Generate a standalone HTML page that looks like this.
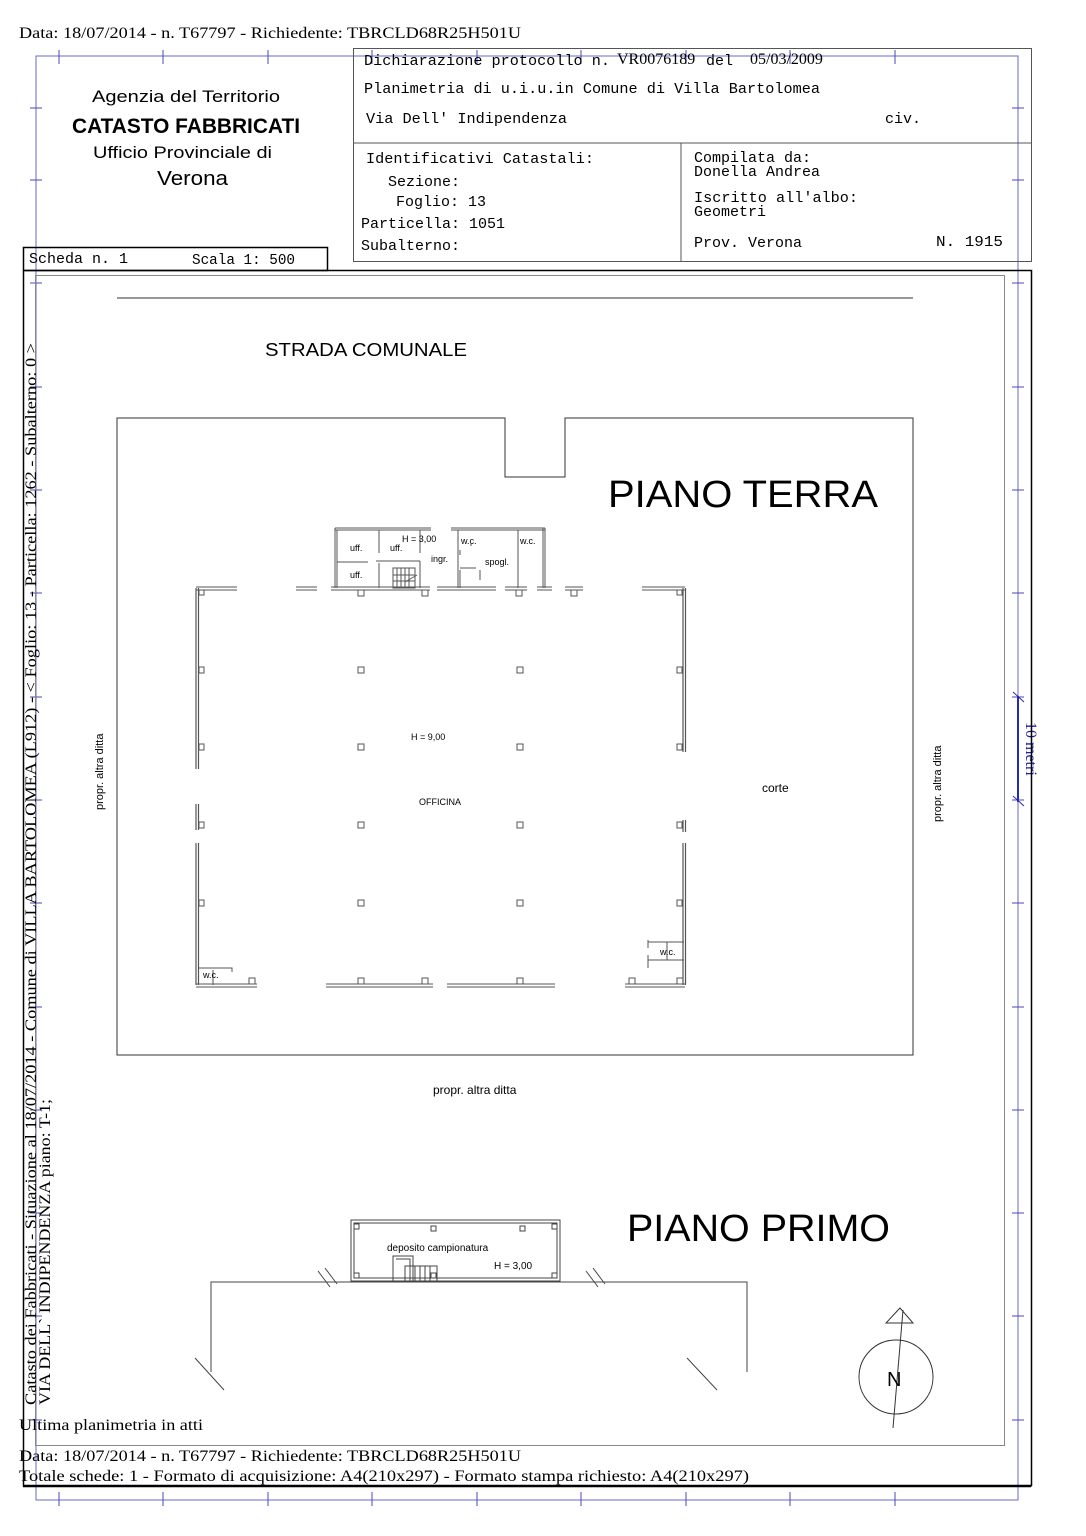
<!DOCTYPE html>
<html><head><meta charset="utf-8"><style>
html,body{margin:0;padding:0;background:#fff}
svg{display:block}
.m{font-family:"Liberation Mono",monospace;font-size:15px;fill:#000}
.s{font-family:"Liberation Sans",sans-serif;fill:#000}
.t{font-family:"Liberation Serif",serif;fill:#000}
</style></head><body>
<svg width="1086" height="1536" viewBox="0 0 1086 1536" xmlns="http://www.w3.org/2000/svg">
<rect width="1086" height="1536" fill="#fff"/>
<text x="19" y="38" class="t" font-size="16" textLength="502" lengthAdjust="spacingAndGlyphs">Data: 18/07/2014 - n. T67797 - Richiedente: TBRCLD68R25H501U</text>

<g stroke="#4a4ab8" stroke-width="1" fill="none">
<rect x="36" y="56" width="982" height="1444" stroke="#6a6ac8"/>
<g>
<path d="M59 50V64M163 50V64M268 50V64M372 50V64M477 50V64M581 50V64M686 50V64M790 50V64M895 50V64"/>
<path d="M59 1492V1506M163 1492V1506M268 1492V1506M372 1492V1506M477 1492V1506M581 1492V1506M686 1492V1506M790 1492V1506M895 1492V1506"/>
<path d="M30 108H42M30 180H42M30 283H42M30 387H42M30 490H42M30 593H42M30 697H42M30 800H42M30 903H42M30 1007H42M30 1110H42M30 1213H42M30 1316H42M30 1420H42"/>
<path d="M1012 108H1024M1012 180H1024M1012 283H1024M1012 387H1024M1012 490H1024M1012 593H1024M1012 697H1024M1012 800H1024M1012 903H1024M1012 1007H1024M1012 1110H1024M1012 1213H1024M1012 1316H1024M1012 1420H1024"/>
</g>
<path d="M1018 696V802" stroke="#2a2ab0" stroke-width="2"/>
<path d="M1013 692L1024 702M1013 796L1024 806" stroke="#2a2ab0"/>
</g>
<text x="1026" y="722" transform="rotate(90 1026 722)" font-family="Liberation Serif,serif" font-size="16" fill="#2020a0">10 metri</text>

<g stroke="#000" fill="none">
<rect x="353.5" y="48.5" width="678" height="213" stroke="#555"/>
<path d="M353 143H1031M681 143V261" stroke="#555"/>
<rect x="23.5" y="247.5" width="304" height="23" stroke-width="1.5"/>
</g>
<text x="92" y="102" class="s" font-size="17" textLength="188" lengthAdjust="spacingAndGlyphs">Agenzia del Territorio</text>
<text x="72" y="133" class="s" font-size="21" font-weight="bold" textLength="228" lengthAdjust="spacingAndGlyphs">CATASTO FABBRICATI</text>
<text x="93" y="158" class="s" font-size="17" textLength="179" lengthAdjust="spacingAndGlyphs">Ufficio Provinciale di</text>
<text x="157" y="185" class="s" font-size="20" textLength="71" lengthAdjust="spacingAndGlyphs">Verona</text>
<text x="364" y="65" class="m" textLength="246" lengthAdjust="spacingAndGlyphs">Dichiarazione protocollo n.</text>
<text x="617" y="64" class="t" font-size="16">VR0076189</text>
<text x="706" y="65" class="m">del</text>
<text x="750" y="64" class="t" font-size="16">05/03/2009</text>
<text x="364" y="93" class="m" textLength="456" lengthAdjust="spacingAndGlyphs">Planimetria di u.i.u.in Comune di Villa Bartolomea</text>
<text x="366" y="123" class="m" textLength="201" lengthAdjust="spacingAndGlyphs">Via Dell' Indipendenza</text>
<text x="885" y="123" class="m">civ.</text>
<text x="366" y="163" class="m" textLength="228" lengthAdjust="spacingAndGlyphs">Identificativi Catastali:</text>
<text x="388" y="186" class="m">Sezione:</text>
<text x="396" y="206" class="m">Foglio: 13</text>
<text x="361" y="228" class="m">Particella: 1051</text>
<text x="361" y="250" class="m">Subalterno:</text>
<text x="694" y="162" class="m">Compilata da:</text>
<text x="694" y="176" class="m">Donella Andrea</text>
<text x="694" y="202" class="m" textLength="164" lengthAdjust="spacingAndGlyphs">Iscritto all'albo:</text>
<text x="694" y="216" class="m">Geometri</text>
<text x="694" y="247" class="m">Prov. Verona</text>
<text x="936" y="246" class="m" textLength="67" lengthAdjust="spacingAndGlyphs">N. 1915</text>
<text x="29" y="263" class="m">Scheda n. 1</text>
<text x="192" y="264" class="m" textLength="103" lengthAdjust="spacingAndGlyphs">Scala 1: 500</text>

<path d="M23.5 270.5H1031.5V1486M23.5 270.5V1486H1031.5" stroke="#000" stroke-width="1.5" fill="none"/>
<path d="M1031 1486H23" stroke="#000" stroke-width="2.5"/>
<rect x="35.5" y="275.5" width="969" height="1170" fill="none" stroke="#888"/>

<text transform="translate(36 1405) rotate(-90)" class="t" font-size="16" textLength="1062" lengthAdjust="spacingAndGlyphs">Catasto dei Fabbricati - Situazione al 18/07/2014 - Comune di VILLA BARTOLOMEA (L912) - &lt; Foglio: 13 - Particella: 1262 - Subalterno: 0 &gt;</text>
<text transform="translate(50 1405) rotate(-90)" class="t" font-size="16" textLength="306" lengthAdjust="spacingAndGlyphs">VIA DELL` INDIPENDENZA piano: T-1;</text>

<g stroke="#333" fill="none" stroke-width="1">
<path d="M117 298H913"/>
<path d="M505 418H117V1055H913V418H565V477H505Z"/>
</g>
<text x="265" y="356" class="s" font-size="18" textLength="202" lengthAdjust="spacingAndGlyphs">STRADA COMUNALE</text>
<text x="608" y="507" class="s" font-size="38" textLength="270" lengthAdjust="spacingAndGlyphs">PIANO TERRA</text>
<text x="103" y="810" transform="rotate(-90 103 810)" class="s" font-size="11">propr. altra ditta</text>
<text x="941" y="822" transform="rotate(-90 941 822)" class="s" font-size="11">propr. altra ditta</text>
<text x="762" y="792" class="s" font-size="12">corte</text>
<text x="433" y="1094" class="s" font-size="12">propr. altra ditta</text>
<text x="411" y="740" class="s" font-size="9" fill="#333">H = 9,00</text>
<text x="419" y="805" class="s" font-size="9" fill="#333">OFFICINA</text>

<g stroke="#555" fill="none" stroke-width="1">
<path d="M196 588V769M198.5 588V769M196 804V830M198.5 804V830M196 843V985M198.5 843V985" stroke-width="1.2"/>
<path d="M683 588V752M685.5 588V752M683 820V832M685.5 820V832M683 843V985M685.5 843V985" stroke-width="1.2"/>
<path d="M196 587H237M196 590H237M642 587H685M642 590H685"/>
<path d="M296 587H317M296 590H317M331 587H430M331 590H430M437 587H496M437 590H496M505 587H527M505 590H527M537 587H552M537 590H552M565 587H583M565 590H583"/>
<path d="M196 984H257M196 987H257M326 984H433M326 987H433M447 984H555M447 987H555M625 984H685M625 987H685"/>
<path d="M335 528H431M335 530H431M451 528H545M451 530H545M335 528V588M337 530V588M543 528V588M545 528V588"/>
<path d="M379 530V553M420 530V553M337 562H368M376 561H420M379 563V588M420 561V588M458 530V588M460 550V555M460 570V588M460 568H476M480 570V580M518 530V588M470 545H472"/>
<path d="M393 568H415V588H393Z M397 568V588M401 568V588M405 568V588M409 568V588M393 575H415M393 581H415 M405 582L417 575"/>
<path d="M358 590h6v6h-6zM422 590h6v6h-6zM516 590h6v6h-6zM571 590h6v6h-6zM199 590h5v5h-5zM677 590h5v5h-5z"/>
<path d="M199 667h5v6h-5zM199 744h5v6h-5zM199 822h5v6h-5zM199 900h5v6h-5zM677 667h5v6h-5zM677 744h5v6h-5zM677 822h5v6h-5zM677 900h5v6h-5z"/>
<path d="M358 667h6v6h-6zM517 667h6v6h-6zM358 744h6v6h-6zM517 744h6v6h-6zM358 822h6v6h-6zM517 822h6v6h-6zM358 900h6v6h-6zM517 900h6v6h-6z"/>
<path d="M249 978h6v6h-6zM358 978h6v6h-6zM422 978h6v6h-6zM517 978h6v6h-6zM629 978h6v6h-6zM677 978h6v6h-6z"/>
<path d="M198 968H232V972M648 942H684M648 960H684M648 940V948M648 955V968M667 942V960M213 970V985"/>
</g>
<g class="s" font-size="9" fill="#444">
<text x="350" y="551">uff.</text><text x="390" y="551">uff.</text><text x="350" y="578">uff.</text>
<text x="402" y="542">H = 3,00</text><text x="431" y="562">ingr.</text>
<text x="461" y="544">w.c.</text><text x="520" y="544">w.c.</text><text x="485" y="565">spogl.</text>
<text x="203" y="978">w.c.</text><text x="660" y="955">w.c.</text>
</g>

<text x="627" y="1241" class="s" font-size="38" textLength="263" lengthAdjust="spacingAndGlyphs">PIANO PRIMO</text>
<g stroke="#444" fill="none">
<rect x="351" y="1220" width="209" height="61"/>
<rect x="354" y="1223" width="203" height="55"/>
<path d="M211 1372V1282H747V1372M318 1271L330 1287M325 1268L337 1284M586 1271L598 1287M593 1268L605 1284M195 1358L224 1390M687 1358L717 1390"/>
<path d="M393 1256H413V1281H393ZM396 1259H410V1281M405 1266H437V1281H405ZM415 1266V1281M420 1266V1281M425 1266V1281M430 1266V1281"/>
<path d="M354 1224h5v5h-5zM520 1226h5v5h-5zM431 1226h5v5h-5zM552 1224h5v5h-5zM354 1273h5v5h-5zM431 1273h5v5h-5zM552 1273h5v5h-5z"/>
</g>
<text x="387" y="1251" class="s" font-size="10" fill="#333">deposito campionatura</text>
<text x="494" y="1269" class="s" font-size="10" fill="#333">H = 3,00</text>

<g stroke="#333" fill="none">
<circle cx="896" cy="1377" r="37"/>
<path d="M900 1308L886 1323H913Z M903 1310L893 1428"/>
</g>
<text x="887" y="1386" class="s" font-size="20">N</text>

<text x="19" y="1430" class="t" font-size="16" textLength="184" lengthAdjust="spacingAndGlyphs">Ultima planimetria in atti</text>
<text x="19" y="1461" class="t" font-size="16" textLength="502" lengthAdjust="spacingAndGlyphs">Data: 18/07/2014 - n. T67797 - Richiedente: TBRCLD68R25H501U</text>
<text x="19" y="1481" class="t" font-size="16" textLength="730" lengthAdjust="spacingAndGlyphs">Totale schede: 1 - Formato di acquisizione: A4(210x297)  - Formato stampa richiesto: A4(210x297)</text>
</svg>
</body></html>
